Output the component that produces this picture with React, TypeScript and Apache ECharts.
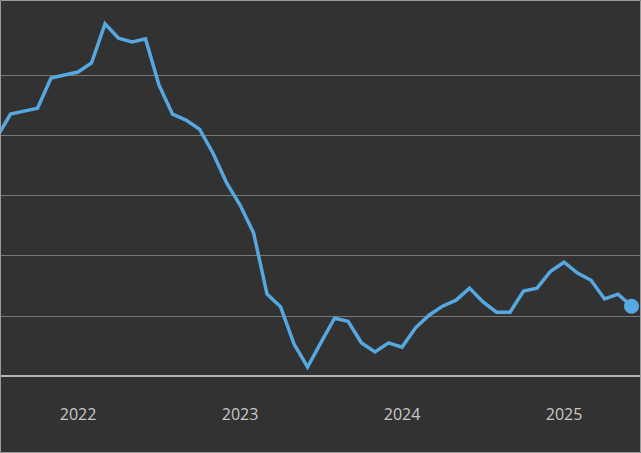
import React, { useEffect, useRef } from "react";
import * as echarts from "echarts";

const MONTHS: string[] = [
  "2022-01","2022-02","2022-03","2022-04","2022-05","2022-06","2022-07","2022-08","2022-09","2022-10","2022-11","2022-12",
  "2023-01","2023-02","2023-03","2023-04","2023-05","2023-06","2023-07","2023-08","2023-09","2023-10","2023-11","2023-12",
  "2024-01","2024-02","2024-03","2024-04","2024-05","2024-06","2024-07","2024-08","2024-09","2024-10","2024-11","2024-12",
  "2025-01","2025-02","2025-03","2025-04","2025-05","2025-06","2025-07","2025-08","2025-09","2025-10","2025-11","2025-12",
];

const VALUES: number[] = [
  3.97, 4.35, 4.40, 4.45, 4.95, 5.00, 5.05, 5.20, 5.85, 5.61, 5.55, 5.60,
  4.83, 4.35, 4.25, 4.10, 3.70, 3.21, 2.84, 2.38, 1.36, 1.15, 0.53, 0.15,
  0.56, 0.96, 0.91, 0.55, 0.40, 0.55, 0.48, 0.80, 1.01, 1.16, 1.26, 1.46,
  1.23, 1.06, 1.06, 1.41, 1.46, 1.74, 1.89, 1.71, 1.59, 1.28, 1.36, 1.16,
];

const GRID_VALUES: number[] = [1, 2, 3, 4, 5];

export default function App() {
  const ref = useRef<HTMLDivElement>(null);
  useEffect(() => {
    if (!ref.current) return;
    const chart = echarts.init(ref.current, undefined, { renderer: "svg" });
    const lineData = VALUES.map((v, i) => [i, v]);
    const last = lineData[lineData.length - 1];
    const labelIdx = MONTHS.map((m, i) => (m.endsWith("-07") ? i : -1)).filter((i) => i >= 0);
    chart.setOption({
      animation: false,
      backgroundColor: "#323232",
      grid: { left: 0, right: 0, top: 0, bottom: 77, containLabel: false },
      xAxis: {
        type: "value",
        min: 0.22,
        max: 47.7,
        axisLine: { show: true, onZero: false, lineStyle: { color: "#e0e0e0", width: 1.5 } },
        axisTick: { show: false },
        splitLine: { show: false },
        axisLabel: {
          customValues: labelIdx,
          formatter: (v: number) => MONTHS[Math.round(v)].slice(0, 4),
          color: "#c8c8c8",
          fontSize: 16,
          fontFamily: "Open Sans",
          margin: 30,
        },
      },
      yAxis: {
        type: "value",
        min: 0,
        max: 6.246,
        axisLine: { show: false },
        axisTick: { show: false },
        axisLabel: { show: false },
        splitLine: { show: false },
      },
      graphic: [
        {
          type: "rect",
          silent: true,
          z: 100,
          shape: { x: 0.5, y: 0.5, width: 640, height: 452 },
          style: { fill: "none", stroke: "#9a9a9a", lineWidth: 1 },
        },
      ],
      series: [
        {
          type: "line",
          data: lineData,
          showSymbol: false,
          clip: true,
          lineStyle: { color: "#56a8e0", width: 3.5, join: "miter" },
          markLine: {
            silent: true,
            symbol: "none",
            label: { show: false },
            lineStyle: { color: "#777777", width: 1, type: "solid" },
            data: GRID_VALUES.map((g) => ({ yAxis: g })),
            z: 1,
          },
          z: 3,
        },
        {
          type: "scatter",
          data: [last],
          symbol: "circle",
          symbolSize: 15,
          itemStyle: { color: "#56a8e0", opacity: 1 },
          z: 4,
        },
      ],
    });
    return () => chart.dispose();
  }, []);
  return (
    <div
      ref={ref}
      style={{ position: "fixed", left: 0, top: 0, width: 641, height: 453 }}
    />
  );
}
